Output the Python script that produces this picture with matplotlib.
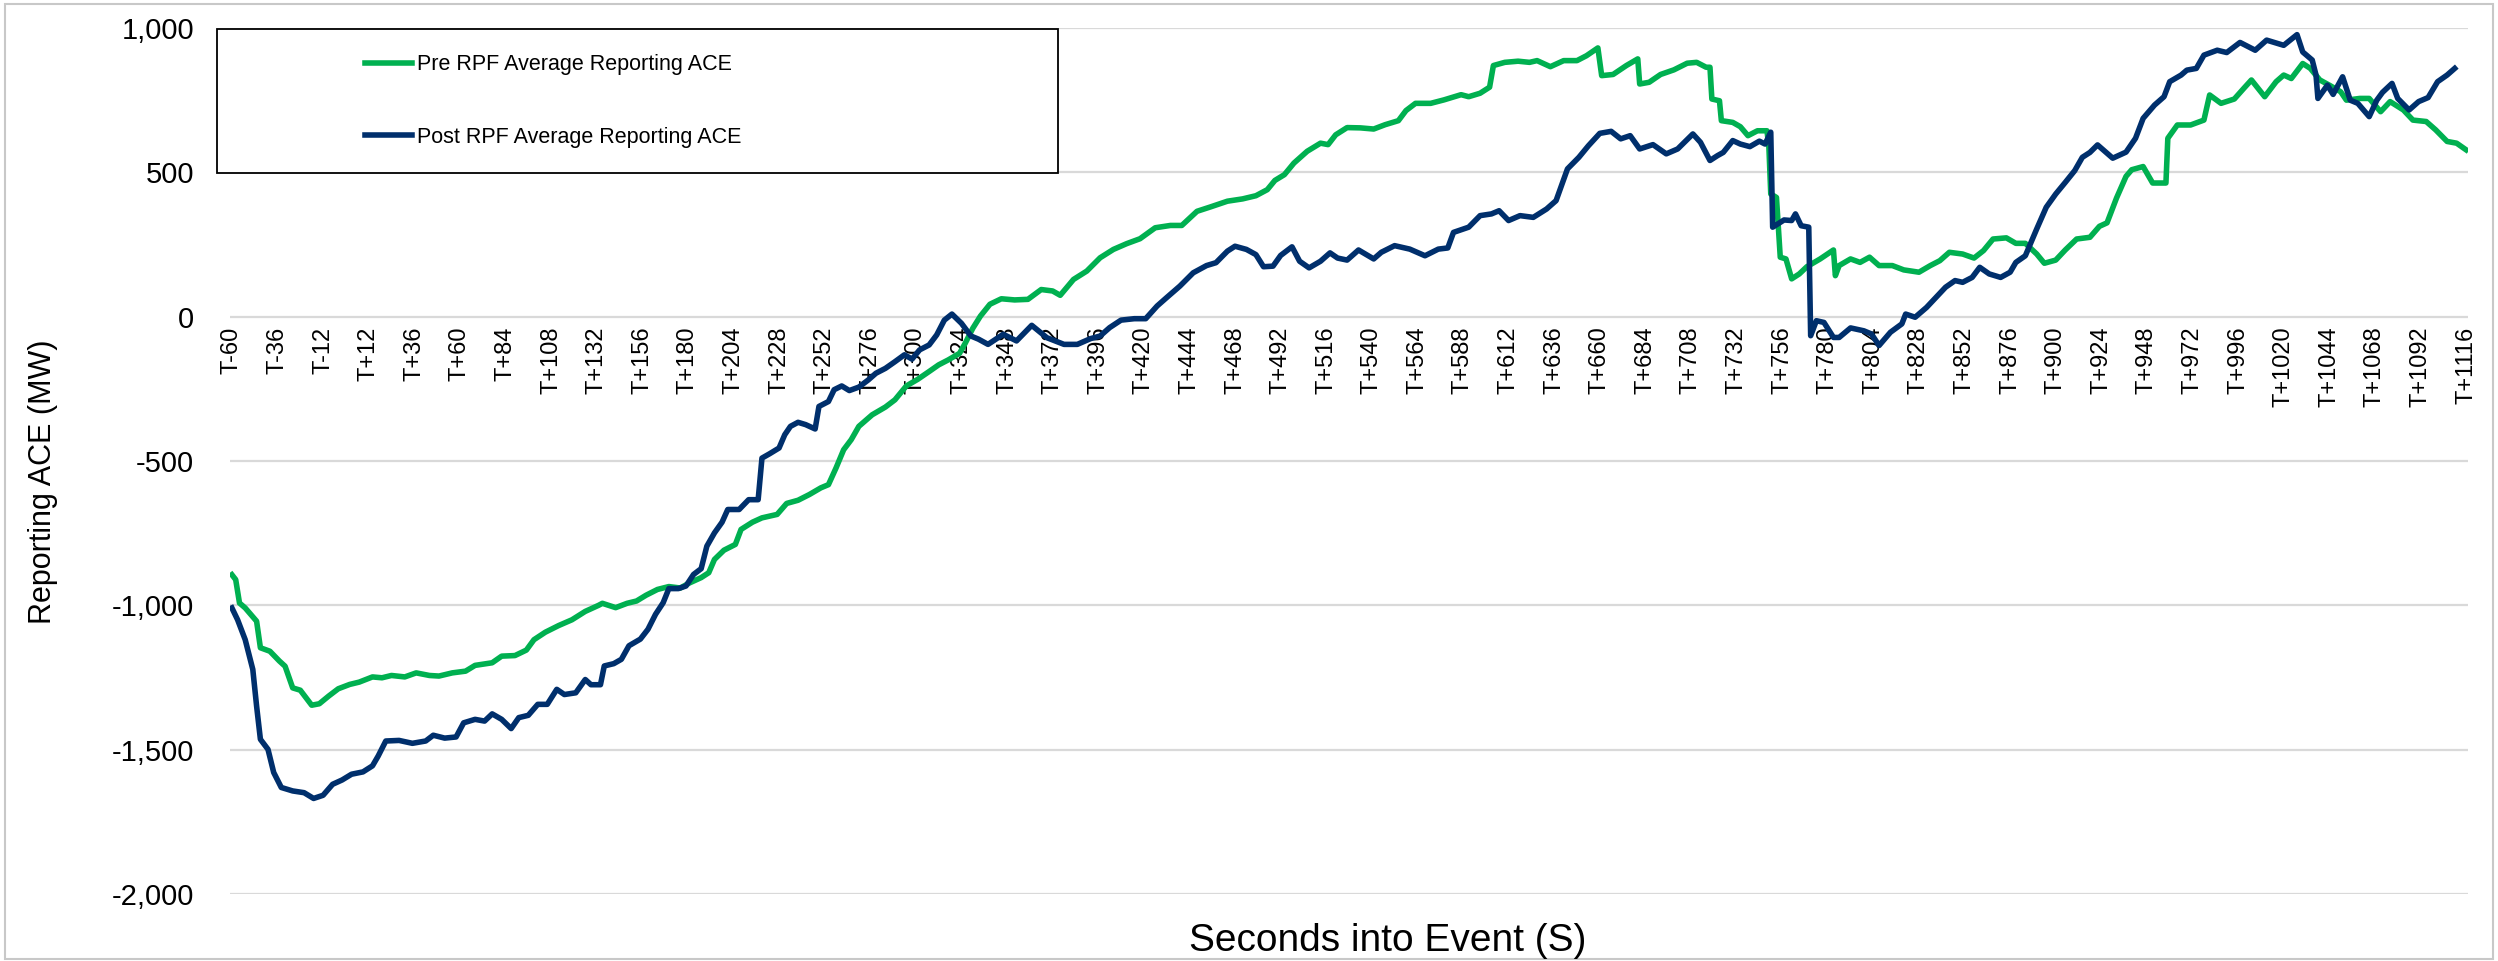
import matplotlib
matplotlib.use("Agg")
import matplotlib.pyplot as plt
from matplotlib.patches import Rectangle
from matplotlib.ticker import FuncFormatter

plt.rcParams['font.family'] = ['Liberation Sans', 'DejaVu Sans']

# seconds into event / reporting ACE (MW)
pre_t = [-60, -58, -56, -53, -47, -45, -40, -35, -32, -28, -24, -18, -14, -9, -4, 2, 7, 14, 19, 24,
         31, 37, 44, 49, 56, 63, 68, 77, 82, 89, 95, 99, 105, 112, 119, 126, 133, 135, 142, 148,
         153, 158, 164, 170, 176, 181, 187, 191, 194, 199, 205, 208, 214, 219, 227, 232, 238, 244, 250, 254,
         258, 262, 266, 270, 277, 284, 289, 295, 301, 307, 312, 317, 323, 326, 330, 334, 339, 345, 352, 359,
         366, 372, 376, 383, 390, 397, 404, 411, 418, 426, 434, 440, 448, 455, 464, 472, 479, 485, 489, 494,
         499, 506, 513, 517, 521, 527, 534, 541, 547, 554, 558, 563, 571, 578, 587, 591, 597, 602, 604, 610,
         617, 623, 627, 634, 641, 648, 653, 659, 661, 667, 674, 680, 681, 686, 692, 699, 706, 711, 716, 718,
         719, 723, 724, 730, 734, 738, 743, 748, 749, 750, 753, 755, 758, 761, 765, 769, 776, 783, 784, 786,
         792, 797, 802, 807, 814, 820, 828, 834, 839, 844, 851, 857, 862, 867, 874, 879, 884, 890, 894, 900,
         905, 911, 918, 923, 927, 932, 937, 940, 946, 951, 958, 959, 964, 971, 978, 981, 987, 994, 999, 1003,
         1010, 1016, 1020, 1024, 1030, 1034, 1039, 1044, 1050, 1053, 1060, 1065, 1071, 1076, 1083, 1088, 1095, 1100, 1106, 1111,
         1116]
pre_v = [-894, -911, -992, -1009, -1055, -1147, -1159, -1193, -1211, -1286, -1294, -1346, -1341, -1314, -1289, -1274, -1266, -1248, -1251, -1243,
         -1248, -1234, -1243, -1245, -1234, -1228, -1208, -1199, -1176, -1174, -1155, -1119, -1093, -1070, -1050, -1021, -1000, -993, -1008, -993,
         -985, -965, -945, -935, -940, -922, -904, -887, -841, -809, -789, -737, -712, -697, -685, -647, -636, -616, -593, -582,
         -524, -461, -426, -380, -340, -313, -288, -240, -217, -190, -167, -150, -127, -92, -40, 2, 43, 62, 58, 60,
         94, 89, 74, 129, 158, 204, 233, 253, 270, 308, 316, 316, 365, 380, 400, 408, 419, 440, 472, 492,
         532, 573, 601, 596, 630, 655, 654, 650, 665, 679, 714, 739, 739, 751, 769, 762, 774, 795, 870, 881,
         885, 881, 887, 866, 887, 887, 904, 931, 835, 839, 870, 893, 806, 812, 839, 855, 878, 881, 864, 864,
         754, 748, 679, 673, 658, 627, 644, 644, 590, 425, 413, 206, 200, 131, 148, 173, 200, 231, 142, 177,
         200, 188, 206, 177, 177, 162, 154, 177, 194, 223, 217, 203, 229, 269, 273, 254, 254, 217, 185, 196,
         231, 269, 275, 313, 325, 411, 486, 509, 520, 463, 463, 618, 664, 664, 681, 768, 739, 754, 791, 820,
         762, 814, 837, 825, 877, 860, 820, 802, 779, 750, 756, 756, 710, 745, 716, 681, 676, 647, 607, 601,
         578]

post_t = [-60, -57, -53, -49, -47, -45, -41, -38, -34, -28, -22, -17, -12, -7, -2, 3, 9, 14, 17, 21,
          28, 35, 42, 46, 52, 58, 62, 68, 73, 77, 82, 87, 91, 96, 101, 106, 111, 115, 121, 126,
          129, 134, 136, 141, 145, 149, 155, 159, 163, 167, 170, 175, 179, 183, 187, 190, 194, 198, 201, 207,
          212, 217, 219, 223, 228, 231, 234, 238, 242, 247, 249, 254, 257, 261, 265, 270, 275, 279, 284, 289,
          294, 298, 302, 307, 311, 315, 319, 324, 329, 333, 338, 346, 353, 361, 369, 378, 385, 392, 397, 402,
          408, 415, 421, 427, 432, 439, 446, 453, 458, 464, 468, 474, 479, 483, 488, 492, 498, 502, 507, 513,
          518, 522, 527, 533, 541, 545, 552, 560, 568, 575, 580, 583, 591, 597, 603, 607, 612, 618, 625, 632,
          637, 643, 649, 654, 660, 666, 671, 676, 681, 688, 695, 701, 709, 713, 718, 722, 725, 730, 734, 739,
          744, 747, 750, 751, 757, 761, 763, 766, 770, 771, 774, 778, 783, 786, 792, 799, 803, 807, 813, 819,
          821, 826, 832, 837, 842, 847, 851, 856, 860, 865, 871, 876, 879, 884, 890, 895, 900, 905, 910, 914,
          918, 922, 930, 937, 942, 946, 952, 957, 960, 966, 969, 974, 978, 985, 990, 997, 1005, 1011, 1020, 1027,
          1030, 1035, 1037, 1038, 1043, 1046, 1051, 1055, 1059, 1065, 1069, 1072, 1077, 1080, 1086, 1091, 1096, 1101, 1106, 1110]
post_v = [-1009, -1050, -1119, -1222, -1349, -1464, -1499, -1579, -1631, -1643, -1649, -1669, -1658, -1620, -1605, -1585, -1577, -1556, -1522, -1470,
          -1468, -1478, -1470, -1450, -1460, -1456, -1407, -1395, -1401, -1376, -1395, -1427, -1389, -1381, -1343, -1343, -1291, -1309, -1303, -1257,
          -1275, -1275, -1210, -1202, -1187, -1140, -1117, -1083, -1031, -991, -942, -942, -933, -893, -873, -795, -749, -712, -668, -668,
          -634, -634, -490, -475, -455, -409, -380, -366, -374, -389, -311, -294, -253, -240, -256, -244, -219, -196, -179, -156,
          -132, -147, -115, -98, -63, -12, 9, -23, -67, -78, -96, -61, -84, -30, -73, -96, -96, -76, -67, -38,
          -12, -7, -7, 37, 66, 106, 152, 177, 187, 227, 244, 233, 215, 173, 175, 212, 242, 192, 169, 192,
          221, 203, 196, 231, 200, 223, 246, 234, 211, 234, 238, 292, 310, 350, 356, 367, 333, 350, 344, 373,
          402, 512, 552, 592, 635, 642, 616, 627, 581, 596, 564, 581, 633, 604, 541, 558, 569, 610, 598, 589,
          608, 598, 639, 310, 335, 333, 356, 315, 310, -66, -14, -20, -72, -72, -39, -49, -60, -100, -54, -25,
          9, -2, 32, 67, 102, 125, 119, 136, 171, 148, 136, 154, 188, 211, 304, 379, 425, 465, 506, 552,
          569, 595, 549, 570, 618, 687, 733, 762, 814, 837, 854, 860, 906, 923, 915, 950, 923, 958, 940, 977,
          917, 889, 837, 756, 802, 770, 831, 750, 739, 693, 750, 777, 808, 756, 716, 745, 759, 814, 837, 860]

tick_secs = list(range(-60, 1117, 24))
tick_labels = ['T%+d' % s for s in tick_secs]
y_ticks = [-2000, -1500, -1000, -500, 0, 500, 1000]

W, H = 2498, 961
fig = plt.figure(figsize=(W / 100, H / 100), dpi=100)
ax = fig.add_axes([230 / W, 1 - 894 / H, (2468 - 230) / W, (894 - 28) / H])

ax.plot(pre_t, pre_v, color='#00B050', lw=4.0, zorder=3, label='Pre RPF Average Reporting ACE')
ax.plot(post_t, post_v, color='#002F6C', lw=4.0, zorder=3, label='Post RPF Average Reporting ACE')

# x axis sits on the zero line, like the category axis in the original
for s in ['top', 'right', 'left']:
    ax.spines[s].set_visible(False)
ax.spines['bottom'].set_position(('data', 0))
ax.spines['bottom'].set_visible(False)

ax.set_xlim(-61, 1117)
ax.set_ylim(-2000, 1000)
ax.set_yticks(y_ticks)
ax.yaxis.set_major_formatter(FuncFormatter(lambda v, p: '{:,.0f}'.format(v)))
ax.set_xticks(tick_secs)
ax.set_xticklabels(tick_labels)

ax.yaxis.grid(True, color='#D9D9D9', lw=1.6)
ax.set_axisbelow(True)
ax.tick_params(axis='x', length=0, pad=7, labelsize=17, labelrotation=90, colors='#000000')
ax.tick_params(axis='y', length=0, pad=26, labelsize=21, colors='#000000')
for lab in ax.get_xticklabels():
    lab.set_va('top')
    lab.set_ha('center')

fig.text(43 / W, 1 - 482 / H, 'Reporting ACE (MW)', rotation=90, ha='center', va='center', fontsize=22)
fig.text(1388 / W, 1 - 941 / H, 'Seconds into Event (S)', ha='center', va='center', fontsize=28)

# legend box
ax.add_patch(Rectangle((217 / W, 1 - 173 / H), (1058 - 217) / W, 144 / H, transform=fig.transFigure,
                       facecolor='white', edgecolor='black', lw=1.3, zorder=4, clip_on=False))
leg = fig.legend(loc='center left', bbox_to_anchor=(365 / W, 1 - 101 / H), frameon=False,
                 fontsize=15.5, handlelength=2.2, handletextpad=0.2, labelspacing=2.4,
                 borderpad=0, borderaxespad=0)
leg.set_zorder(5)

fig.patches.append(Rectangle((5 / W, 2 / H), (W - 10) / W, (H - 6) / H, transform=fig.transFigure,
                             fill=False, edgecolor='#C8C8C8', lw=1.5))

fig.savefig('out.png', dpi=100)
